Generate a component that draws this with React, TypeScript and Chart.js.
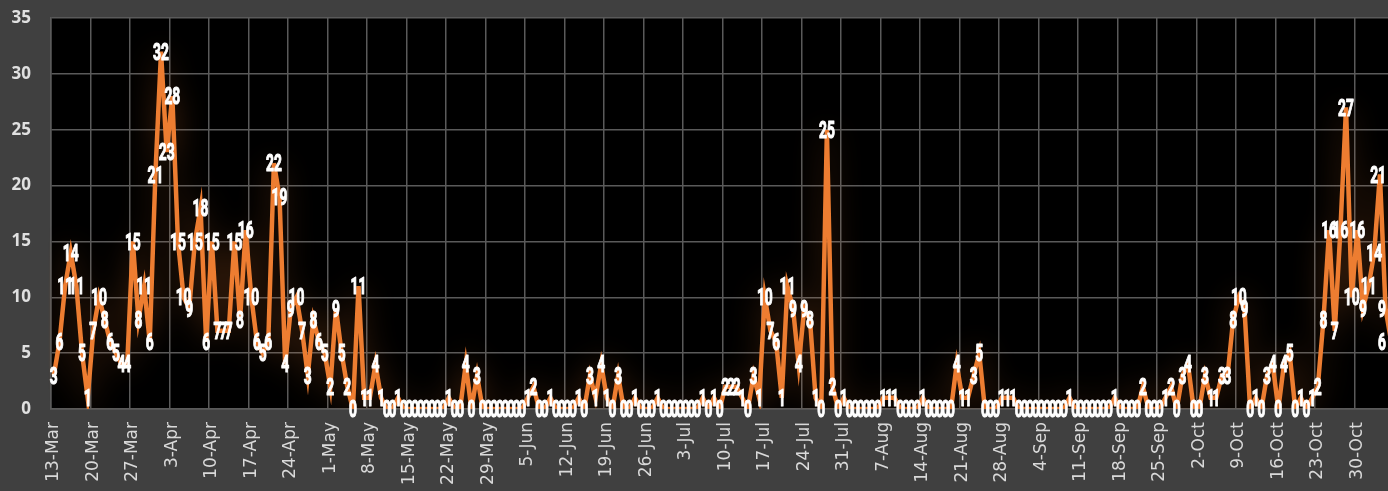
import React, { useEffect, useRef } from 'react';
import { Chart, registerables } from 'chart.js';

Chart.register(...registerables);

// Daily values, 13-Mar onwards
const marchValues = [3, 6, 11, 14, 11, 5, 1, 7, 10, 8, 6, 5, 4, 4, 15, 8, 11, 6, 21];
const aprilValues = [32, 23, 28, 15, 10, 9, 15, 18, 6, 15, 7, 7, 7, 15, 8, 16, 10, 6, 5, 6, 22, 19, 4, 9, 10, 7, 3, 8, 6, 5];
const mayValues = [2, 9, 5, 2, 0, 11, 1, 1, 4, 1, 0, 0, 1, 0, 0, 0, 0, 0, 0, 0, 0, 1, 0, 0, 4, 0, 3, 0, 0, 0, 0];
const juneValues = [0, 0, 0, 0, 1, 2, 0, 0, 1, 0, 0, 0, 0, 1, 0, 3, 1, 4, 1, 0, 3, 0, 0, 1, 0, 0, 0, 1, 0, 0];
const julyValues = [0, 0, 0, 0, 0, 1, 0, 1, 0, 2, 2, 2, 1, 0, 3, 1, 10, 7, 6, 1, 11, 9, 4, 9, 8, 1, 0, 25, 2, 0, 1];
const augustValues = [0, 0, 0, 0, 0, 0, 1, 1, 1, 0, 0, 0, 0, 1, 0, 0, 0, 0, 0, 4, 1, 1, 3, 5, 0, 0, 0, 1, 1, 1, 0];
const septemberValues = [0, 0, 0, 0, 0, 0, 0, 0, 1, 0, 0, 0, 0, 0, 0, 0, 1, 0, 0, 0, 0, 2, 0, 0, 0, 1, 2, 0, 3, 4];
const octoberValues = [0, 0, 3, 1, 1, 3, 3, 8, 10, 9, 0, 1, 0, 3, 4, 0, 4, 5, 0, 1, 0, 1, 2, 8, 16, 7, 16, 27, 10, 16, 9];
const novemberValues = [11, 14, 21, 9, 6];

const values = [
  ...marchValues, ...aprilValues, ...mayValues, ...juneValues, ...julyValues,
  ...augustValues, ...septemberValues, ...octoberValues, ...novemberValues,
];

const monthNames = ['Jan', 'Feb', 'Mar', 'Apr', 'May', 'Jun', 'Jul', 'Aug', 'Sep', 'Oct', 'Nov', 'Dec'];
const categories: string[] = values.map((_, i) => {
  const d = new Date(Date.UTC(2020, 2, 13 + i));
  return `${d.getUTCDate()}-${monthNames[d.getUTCMonth()]}`;
});
const tickEvery = 7;

const VISIBLE_W = 1388;
const CANVAS_W = 1394;
const CANVAS_H = 491;
const GRID = '#5a5a5a';
const LABEL_SX = 0.6;

const backgroundPlugin = {
  id: 'bg',
  beforeDraw(chart: any) {
    const { ctx, chartArea } = chart;
    ctx.save();
    ctx.fillStyle = '#404040';
    ctx.fillRect(0, 0, chart.width, chart.height);
    ctx.fillStyle = '#000000';
    ctx.fillRect(chartArea.left, chartArea.top, chartArea.right - chartArea.left, chartArea.bottom - chartArea.top);
    ctx.restore();
  },
};

const glowPlugin = {
  id: 'glow',
  beforeDatasetDraw(chart: any) {
    const ctx = chart.ctx;
    ctx.save();
    ctx.shadowColor = 'rgba(237,125,49,0.34)';
    ctx.shadowBlur = 30;
  },
  afterDatasetDraw(chart: any) {
    chart.ctx.restore();
  },
};

const dataLabelPlugin = {
  id: 'valueLabels',
  afterDatasetsDraw(chart: any) {
    const { ctx } = chart;
    const meta = chart.getDatasetMeta(0);
    ctx.save();
    ctx.font = 'bold 23px Roboto';
    ctx.fillStyle = '#ffffff';
    ctx.strokeStyle = '#ffffff';
    ctx.lineWidth = 1.1;
    ctx.lineJoin = 'round';
    ctx.textAlign = 'center';
    ctx.textBaseline = 'alphabetic';
    const capH = 16.3;
    meta.data.forEach((pt: any, i: number) => {
      const text = String(values[i]);
      const w = ctx.measureText(text).width * LABEL_SX;
      let x = pt.x;
      if (x + w / 2 > VISIBLE_W - 2) x = VISIBLE_W - 2 - w / 2;
      ctx.save();
      ctx.translate(x, pt.y + capH / 2);
      ctx.scale(LABEL_SX, 1);
      ctx.fillText(text, 0, 0);
      ctx.strokeText(text, 0, 0);
      ctx.restore();
    });
    ctx.restore();
  },
};

export default function App() {
  const canvasRef = useRef<HTMLCanvasElement | null>(null);

  useEffect(() => {
    if (!canvasRef.current) return;
    const chart = new Chart(canvasRef.current, {
      type: 'line',
      data: {
        labels: categories,
        datasets: [
          {
            data: values,
            borderColor: '#ED7D31',
            borderWidth: 4.5,
            pointRadius: 0,
            tension: 0,
            fill: false,
          },
        ],
      },
      options: {
        animation: false,
        responsive: false,
        maintainAspectRatio: false,
        layout: { padding: { top: 18, left: 0, right: 0, bottom: 0 } },
        plugins: {
          legend: { display: false },
          tooltip: { enabled: false },
        },
        scales: {
          x: {
            type: 'category',
            offset: true,
            grid: {
              offset: true,
              drawTicks: false,
              lineWidth: 1.5,
              color: (ctx: any) => (ctx.index % tickEvery === 0 ? GRID : 'rgba(0,0,0,0)'),
            },
            border: { color: GRID, width: 1.5 },
            ticks: {
              autoSkip: false,
              maxRotation: 90,
              minRotation: 90,
              padding: 13,
              color: '#d9d9d9',
              font: { family: 'DejaVu Sans', size: 17 },
              callback: (_v: any, i: number) => (i % tickEvery === 0 ? categories[i] : ''),
            },
            afterFit: (s: any) => {
              s.height = 82;
              s.paddingLeft = 0;
              s.paddingRight = 0;
              s.paddingTop = 0;
              s.paddingBottom = 0;
            },
          },
          y: {
            min: 0,
            max: 35,
            grid: { drawTicks: false, color: GRID, lineWidth: 1.5 },
            border: { color: GRID, width: 1.5 },
            ticks: {
              stepSize: 5,
              padding: 20,
              color: '#e0e0e0',
              font: { family: 'Open Sans', weight: 'bold', size: 17 },
            },
            afterFit: (s: any) => {
              s.width = 51;
              s.paddingLeft = 0;
              s.paddingRight = 0;
              s.paddingTop = 0;
              s.paddingBottom = 0;
            },
          },
        },
      },
      plugins: [backgroundPlugin, glowPlugin, dataLabelPlugin],
    });
    return () => chart.destroy();
  }, []);

  return (
    <div
      style={{
        position: 'fixed',
        left: 0,
        top: 0,
        width: VISIBLE_W,
        height: CANVAS_H,
        overflow: 'hidden',
        background: '#404040',
      }}
    >
      <canvas
        ref={canvasRef}
        width={CANVAS_W}
        height={CANVAS_H}
        style={{ display: 'block', width: CANVAS_W, height: CANVAS_H }}
      />
    </div>
  );
}
